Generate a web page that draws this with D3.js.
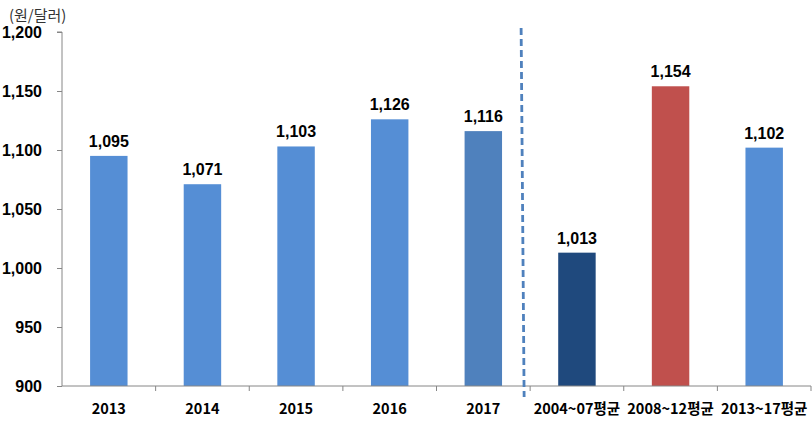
<!DOCTYPE html>
<html><head><meta charset="utf-8">
<script src="https://cdn.jsdelivr.net/npm/d3@7"></script>
<style>body{margin:0;background:#fff}svg{display:block}</style>
</head><body>
<svg id="c" width="812" height="437"></svg>
<script>
const categories = ["2013","2014","2015","2016","2017","2004~07평균","2008~12평균","2013~17평균"];
const values = [1095,1071,1103,1126,1116,1013,1154,1102];
const barColors = ["#558ED5","#558ED5","#558ED5","#558ED5","#4F81BD","#1F497D","#C0504D","#558ED5"];
const yTicks = [900,950,1000,1050,1100,1150,1200];
const unitLabel = "(원/달러)";

const svg = d3.select("#c");
const mL = 62, mR = 811, mT = 32, mB = 386;
const x = d3.scaleBand().domain(categories).range([mL, mR]).paddingInner(0.6).paddingOuter(0.3);
const xb = d3.scaleBand().domain(categories).range([mL, mR]);
const y = d3.scaleLinear().domain([900,1200]).range([mB, mT]);
const fmt = d3.format(",");
const fontNum = "'Liberation Sans', Arial, sans-serif";
const fontKr = "'Noto Sans CJK KR', sans-serif";

// y axis
const ya = svg.append("g").attr("transform", `translate(${mL},0)`)
  .call(d3.axisLeft(y).tickValues(yTicks).tickFormat(fmt).tickSize(5).tickPadding(15));
ya.select(".domain").attr("stroke","#868686").attr("d", `M-5,${mT}H0V${mB}`);
ya.selectAll(".tick line").attr("stroke","#868686");
ya.selectAll(".tick text").attr("font-family", fontNum).attr("font-size", 16).attr("font-weight","bold").attr("fill","#000");

// bars
svg.append("g").selectAll("rect").data(categories).join("rect")
  .attr("x", d => x(d)).attr("width", x.bandwidth())
  .attr("y", (d,i) => y(values[i])).attr("height", (d,i) => y(900) - y(values[i]))
  .attr("fill", (d,i) => barColors[i]);

// value labels
svg.append("g").selectAll("text").data(categories).join("text")
  .attr("x", d => x(d) + x.bandwidth()/2).attr("y", (d,i) => y(values[i]) - 9)
  .attr("text-anchor","middle").attr("font-family", fontNum).attr("font-size", 16).attr("font-weight","bold")
  .text((d,i) => fmt(values[i]));

// x axis
const xa = svg.append("g").attr("transform", `translate(0,${mB})`);
xa.append("line").attr("x1", mL).attr("x2", mR).attr("stroke","#868686");
xa.selectAll("line.t").data(categories).join("line").attr("class","t")
  .attr("x1", d => xb(d) + xb.bandwidth()).attr("x2", d => xb(d) + xb.bandwidth())
  .attr("y1", 0).attr("y2", 5).attr("stroke","#868686");
xa.selectAll("text").data(categories).join("text")
  .attr("x", d => xb(d) + xb.bandwidth()/2).attr("y", 28)
  .attr("text-anchor","middle").attr("font-family", fontKr).attr("font-size", 14.5).attr("font-weight","bold")
  .text(d => d);

// divider dashed line
const divX = xb(categories[5]) - 9;
svg.append("line").attr("x1", divX).attr("x2", divX + 3).attr("y1", 28).attr("y2", 397)
  .attr("stroke","#4F81BD").attr("stroke-width", 2.8).attr("stroke-dasharray","7,4");

// unit label
svg.append("text").attr("x", 9).attr("y", 21).attr("font-family", fontKr).attr("font-size", 15)
  .attr("fill","#333").text(unitLabel);
</script>
</body></html>
